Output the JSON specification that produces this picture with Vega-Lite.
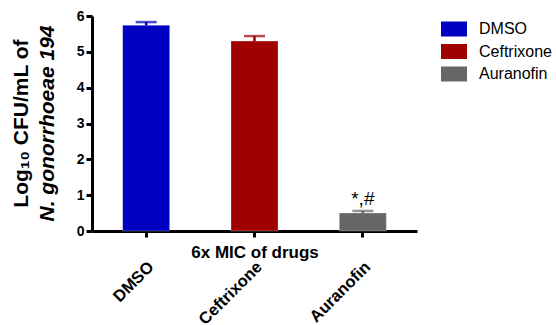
{
  "$schema": "https://vega.github.io/schema/vega-lite/v6.json",
  "width": 325,
  "height": 215,
  "autosize": {"type": "none"},
  "padding": {"left": 92, "top": 16, "right": 139, "bottom": 94},
  "background": "white",
  "title": {
    "text": "Log₁₀ CFU/mL  of",
    "subtitle": "N. gonorrhoeae 194",
    "orient": "left",
    "anchor": "middle",
    "font": "Liberation Sans",
    "fontSize": 21,
    "fontWeight": "bold",
    "color": "black",
    "subtitleFont": "Liberation Sans",
    "subtitleFontSize": 21,
    "subtitleFontWeight": "bold",
    "subtitleFontStyle": "italic",
    "subtitleColor": "black",
    "subtitlePadding": 5,
    "offset": 18
  },
  "data": {
    "values": [
      {"drug": "DMSO", "value": 5.74, "upper": 5.83, "sig": ""},
      {"drug": "Ceftrixone", "value": 5.3, "upper": 5.44, "sig": ""},
      {"drug": "Auranofin", "value": 0.5, "upper": 0.56, "sig": "*,#"}
    ]
  },
  "encoding": {
    "x": {
      "field": "drug",
      "type": "nominal",
      "sort": ["DMSO", "Ceftrixone", "Auranofin"],
      "scale": {"paddingInner": 0, "paddingOuter": 0},
      "axis": {
        "title": "6x MIC of drugs",
        "titleFont": "Liberation Sans",
        "titleFontSize": 17,
        "titleFontWeight": "bold",
        "titleColor": "black",
        "titleY": 21,
        "titleBaseline": "middle",
        "labelAngle": -45,
        "labelAlign": "right",
        "labelBaseline": "middle",
        "labelFont": "Liberation Sans",
        "labelFontSize": 16.5,
        "labelFontWeight": "bold",
        "labelColor": "black",
        "labelPadding": 27,
        "labelOffset": 5,
        "domainColor": "black",
        "domainWidth": 3,
        "tickColor": "black",
        "tickWidth": 3,
        "tickSize": 6,
        "grid": false
      }
    },
    "y": {
      "field": "value",
      "type": "quantitative",
      "scale": {"domain": [0, 6], "nice": false},
      "axis": {"title": null, "values": [0, 1, 2, 3, 4, 5, 6]}
    }
  },
  "layer": [
    {
      "mark": {"type": "bar", "size": 47, "stroke": "white", "strokeOpacity": 0.25, "strokeWidth": 1},
      "encoding": {
        "color": {
          "field": "drug",
          "type": "nominal",
          "sort": ["DMSO", "Ceftrixone", "Auranofin"],
          "scale": {"domain": ["DMSO", "Ceftrixone", "Auranofin"], "range": ["#0000c0", "#a00000", "#666666"]},
          "legend": {"title": null}
        }
      }
    },
    {
      "mark": {"type": "rule", "strokeWidth": 2.5},
      "encoding": {
        "y2": {"field": "upper"},
        "color": {"field": "drug", "type": "nominal"}
      }
    },
    {
      "mark": {"type": "tick", "size": 21, "thickness": 2.5},
      "encoding": {
        "y": {"field": "upper", "type": "quantitative", "axis": {"title": null, "values": [0, 1, 2, 3, 4, 5, 6]}},
        "color": {"field": "drug", "type": "nominal"}
      }
    },
    {
      "mark": {"type": "text", "dy": -6, "baseline": "alphabetic", "font": "Liberation Sans", "fontSize": 19, "color": "black"},
      "encoding": {
        "y": {"field": "upper", "type": "quantitative", "axis": {"title": null, "values": [0, 1, 2, 3, 4, 5, 6]}},
        "text": {"field": "sig"}
      }
    }
  ],
  "config": {
    "view": {"stroke": null},
    "axisY": {
      "labelFont": "Liberation Sans",
      "labelFontSize": 14,
      "labelFontWeight": "bold",
      "labelColor": "black",
      "labelPadding": 2,
      "labelOverlap": false,
      "domainColor": "black",
      "domainWidth": 3,
      "tickColor": "black",
      "tickWidth": 3,
      "tickSize": 6,
      "grid": false
    },
    "legend": {
      "orient": "right",
      "offset": 24,
      "padding": 0,
      "symbolType": "M-1,-0.577L1,-0.577L1,0.577L-1,0.577Z",
      "symbolSize": 676,
      "symbolStrokeWidth": 0,
      "symbolOpacity": 1,
      "labelFont": "Liberation Sans",
      "labelFontSize": 16,
      "labelColor": "black",
      "labelOffset": 12,
      "labelLimit": 200,
      "rowPadding": 1.5
    }
  }
}
